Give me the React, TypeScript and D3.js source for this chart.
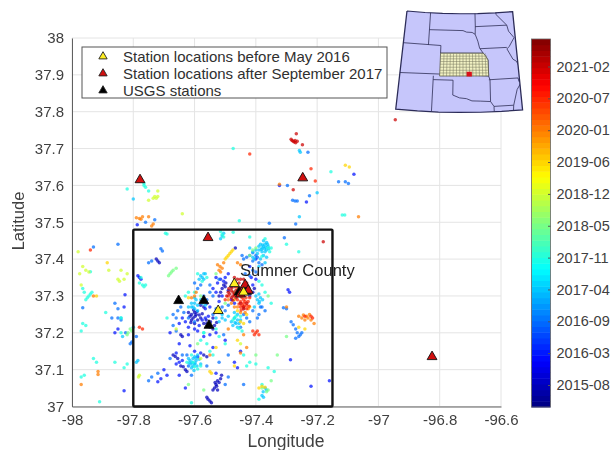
import React, { useEffect, useRef } from 'react';
import * as d3 from 'd3';

type LonLat = [number, number];

// colorbar ticks, decimal year -> label
const dateTicks = [2015.6, 2016.15, 2016.7, 2017.25, 2017.8, 2018.35, 2018.9, 2019.45, 2020.0, 2020.55, 2021.1];
const dateLabels = ['2015-08', '2016-03', '2016-09', '2017-04', '2017-11', '2018-05', '2018-12', '2019-06', '2020-01', '2020-07', '2021-02'];
const lonTicks = [-98, -97.8, -97.6, -97.4, -97.2, -97, -96.8, -96.6];
const latTicks = [37, 37.1, 37.2, 37.3, 37.4, 37.5, 37.6, 37.7, 37.8, 37.9, 38];

// events, one list per colour band
const events2015: LonLat[] = [
  [-97.61,37.25],[-97.6,37.255],[-97.615,37.245],[-97.605,37.24],[-97.595,37.25],[-97.62,37.255],[-97.59,37.235],[-97.61,37.235],
  [-97.55,37.215],[-97.54,37.21],[-97.56,37.225],[-97.535,37.22],[-97.57,37.14],[-97.56,37.135],[-97.64,37.19],[-97.645,37.195],
  [-97.53,37.06],[-97.525,37.07],[-97.535,37.05],[-97.54,37.045],[-97.52,37.065],[-97.528,37.055],[-97.515,37.075],
  [-97.556,37.02],[-97.55,37.015],[-97.56,37.025],[-97.545,37.01],[-97.467,37.43],[-97.5,37.325],[-97.505,37.33],[-97.49,37.315],
  [-97.51,37.32],[-97.72,37.395],[-97.725,37.4],[-97.715,37.39],[-97.663,37.136],[-97.67,37.14],[-97.655,37.13],[-97.637,37.108],
  [-97.63,37.1],[-97.645,37.11],[-97.625,37.095],[-97.58,37.275],[-97.57,37.27],[-97.56,37.28],[-97.44,37.265],[-97.42,37.3],
  [-97.598,37.245],[-97.592,37.258],[-97.585,37.248],[-97.58,37.24],[-97.575,37.252],[-97.603,37.262],[-97.612,37.228],[-97.6,37.225],
  [-97.57,37.225],[-97.562,37.235],[-97.548,37.23],[-97.54,37.24],[-97.528,37.228],[-97.52,37.3],[-97.515,37.31],[-97.498,37.335],
  [-97.48,37.325],[-97.41,37.31],[-97.405,37.32],[-97.525,37.045],[-97.533,37.065],[-97.512,37.085],
];
const events2016a: LonLat[] = [
  [-97.565,37.24],[-97.575,37.235],[-97.555,37.245],[-97.585,37.22],[-97.6,37.21],[-97.62,37.195],[-97.65,37.17],[-97.68,37.2],
  [-97.295,37.317],[-97.29,37.31],[-97.16,37.07],[-97.22,37.055],[-97.287,37.127],[-97.83,37.043],[-97.827,37.303],[-97.78,37.35],
  [-97.775,37.345],[-97.785,37.355],[-97.72,37.067],[-97.71,37.075],[-97.59,37.135],[-97.6,37.15],[-97.615,37.165],[-97.54,37.16],
  [-97.5,37.18],[-97.46,37.105],[-97.45,37.15],[-97.47,37.12],[-97.52,37.285],[-97.48,37.29],[-97.47,37.28],[-97.51,37.3],
  [-97.5,37.35],[-97.49,37.36],[-97.42,37.38],[-97.4,37.4],[-97.63,37.05],[-97.53,37.09],[-97.65,37.085],[-97.69,37.085],[-97.7,37.1],
  [-97.08,37.63],[-97.235,37.555],[-97.323,37.6],[-97.787,37.493],[-97.83,37.27],[-97.85,37.21],[-97.86,37.2],
  [-97.53,37.31],[-97.54,37.32],[-97.525,37.335],[-97.515,37.345],[-97.505,37.34],[-97.53,37.35],[-97.55,37.27],[-97.565,37.265],
  [-97.63,37.23],[-97.64,37.24],[-97.65,37.225],[-97.62,37.215],[-97.59,37.205],[-97.57,37.19],[-97.55,37.195],[-97.53,37.2],
  [-97.66,37.145],[-97.65,37.12],[-97.66,37.115],[-97.64,37.125],[-97.58,37.145],[-97.41,37.33],[-97.4,37.345],[-97.415,37.35],
];
const events2016b: LonLat[] = [
  [-97.93,37.433],[-97.85,37.44],[-97.71,37.428],[-97.705,37.422],[-97.75,37.39],[-97.74,37.395],[-97.278,37.222],[-97.27,37.21],
  [-97.285,37.23],[-97.265,37.2],[-97.31,37.268],[-97.3,37.265],[-97.255,37.195],[-97.25,37.2],[-97.26,37.19],[-97.27,37.185],
  [-97.13,37.61],[-97.108,37.61],[-97.098,37.605],[-97.297,37.6],[-97.28,37.56],[-97.272,37.558],[-97.265,37.558],[-97.225,37.572],
  [-97.23,37.69],[-97.27,37.495],[-97.356,37.497],[-97.307,37.458],[-97.76,37.5],[-97.73,37.507],[-97.965,37.268],[-97.86,37.28],
  [-97.85,37.265],[-97.87,37.24],[-97.85,37.24],[-97.84,37.235],[-97.825,37.2],[-97.805,37.175],[-97.81,37.17],[-97.79,37.19],
  [-97.66,37.24],[-97.67,37.25],[-97.655,37.26],[-97.68,37.13],[-97.72,37.09],[-97.74,37.08],[-97.75,37.07],[-97.6,37.23],
  [-97.44,37.25],[-97.43,37.24],[-97.45,37.215],[-97.41,37.26],[-97.38,37.27],[-97.39,37.25],[-97.53,37.265],[-97.54,37.3],
  [-97.55,37.33],[-97.52,37.345],[-97.41,37.417],[-97.4,37.41],[-97.43,37.405],[-97.42,37.41],[-97.39,37.39],[-97.38,37.385],
  [-97.505,37.195],[-97.49,37.14],[-97.52,37.12],[-97.56,37.11],[-97.49,37.08],[-97.5,37.06],[-97.44,37.06],
  [-97.52,37.255],[-97.51,37.27],[-97.5,37.26],[-97.49,37.275],[-97.54,37.25],[-97.56,37.29],[-97.57,37.3],[-97.55,37.31],
  [-97.59,37.32],[-97.6,37.335],[-97.58,37.33],[-97.62,37.24],[-97.635,37.255],[-97.645,37.27],[-97.66,37.205],[-97.67,37.22],
  [-97.435,37.36],[-97.42,37.355],[-97.41,37.37],[-97.4,37.365],[-97.44,37.4],[-97.445,37.41],[-97.41,37.395],[-97.395,37.405],
  [-97.385,37.27],[-97.37,37.26],[-97.395,37.24],[-97.42,37.23],[-97.64,37.14],[-97.62,37.11],[-97.61,37.085],[-97.625,37.14],
];
const events2017a: LonLat[] = [
  [-97.79,37.12],[-97.785,37.125],[-97.8,37.563],[-97.255,37.69],[-97.258,37.695],[-97.258,37.515],[-97.2,37.58],
  [-97.375,37.434],[-97.37,37.44],[-97.38,37.43],[-97.365,37.425],[-97.385,37.44],[-97.36,37.435],[-97.37,37.42],[-97.38,37.42],
  [-97.39,37.425],[-97.375,37.45],[-97.365,37.445],[-97.41,37.42],[-97.42,37.43],[-97.405,37.4],[-97.39,37.38],[-97.37,37.39],
  [-97.575,37.35],[-97.57,37.345],[-97.58,37.355],[-97.565,37.36],[-97.585,37.345],[-97.57,37.36],[-97.6,37.28],[-97.605,37.27],
  [-97.61,37.28],[-97.595,37.29],[-97.6,37.265],[-97.59,37.275],[-97.62,37.27],[-97.51,37.463],[-97.505,37.47],[-97.515,37.455],
  [-97.395,37.29],[-97.39,37.28],[-97.4,37.3],[-97.385,37.295],[-97.405,37.27],[-97.608,37.12],[-97.6,37.115],[-97.615,37.125],
  [-97.605,37.13],[-97.595,37.125],[-97.61,37.105],[-97.6,37.135],[-97.59,37.14],[-97.62,37.13],[-97.468,37.228],[-97.46,37.235],
  [-97.475,37.22],[-97.455,37.225],[-97.47,37.24],[-97.46,37.215],[-97.53,37.24],[-97.52,37.23],[-97.51,37.25],[-97.376,37.04],
  [-97.38,37.03],[-97.37,37.05],[-97.375,37.025],[-97.365,37.045],[-97.84,37.24],[-97.8,37.215],[-97.835,37.19],
  [-97.372,37.428],[-97.378,37.438],[-97.368,37.432],[-97.362,37.44],[-97.382,37.426],[-97.358,37.428],[-97.39,37.435],[-97.4,37.425],
  [-97.41,37.405],[-97.395,37.415],[-97.385,37.4],[-97.375,37.41],[-97.365,37.405],[-97.612,37.115],[-97.605,37.11],[-97.598,37.118],
  [-97.592,37.11],[-97.618,37.118],[-97.602,37.098],[-97.595,37.132],[-97.585,37.128],[-97.58,37.115],[-97.61,37.27],[-97.6,37.295],
  [-97.58,37.29],[-97.575,37.28],[-97.565,37.275],[-97.59,37.26],[-97.51,37.24],[-97.5,37.235],[-97.49,37.245],[-97.48,37.23],
  [-97.47,37.255],[-97.46,37.25],[-97.465,37.225],[-97.45,37.235],[-97.388,37.285],[-97.378,37.29],[-97.39,37.305],
];
const events2017b: LonLat[] = [
  [-97.82,37.59],[-97.765,37.605],[-97.76,37.595],[-97.765,37.6],[-97.75,37.585],[-97.474,37.70],[-97.155,37.637],[-97.118,37.52],
  [-97.11,37.52],[-97.454,37.504],[-97.695,37.47],[-97.69,37.468],[-97.51,37.467],[-97.505,37.46],[-97.515,37.475],[-97.474,37.473],
  [-97.42,37.46],[-97.94,37.366],[-97.95,37.295],[-97.945,37.3],[-97.94,37.305],[-97.935,37.31],[-97.955,37.29],[-97.965,37.32],
  [-97.96,37.31],[-97.965,37.225],[-97.955,37.22],[-97.97,37.205],[-97.89,37.255],[-97.84,37.24],[-97.84,37.2],[-97.93,37.13],
  [-97.92,37.12],[-97.86,37.12],[-97.83,37.105],[-97.82,37.115],[-97.97,37.08],[-97.96,37.085],[-97.91,37.013],[-97.775,37.35],
  [-97.77,37.33],[-97.765,37.325],[-97.76,37.33],[-97.78,37.335],[-97.69,37.24],[-97.62,37.31],[-97.63,37.3],[-97.6,37.31],
  [-97.58,37.18],[-97.57,37.2],[-97.56,37.17],[-97.44,37.14],[-97.42,37.12],[-97.4,37.115],[-97.36,37.105],[-97.34,37.095],
  [-97.47,37.24],[-97.45,37.245],[-97.43,37.11],[-97.61,37.01],[-97.5,37.17],[-97.38,37.06],[-97.39,37.02],[-97.58,37.11],
  [-97.54,37.14],[-97.55,37.15],[-97.39,37.34],[-97.38,37.33],[-97.37,37.31],[-97.35,37.28],[-97.26,37.42],[-97.3,37.44],
  [-97.605,37.12],[-97.6,37.108],[-97.59,37.102],[-97.61,37.14],[-97.625,37.12],[-97.475,37.235],[-97.465,37.245],[-97.455,37.212],
  [-97.445,37.205],[-97.36,37.43],[-97.355,37.42],[-97.35,37.43],[-97.37,37.455],[-97.38,37.408],[-97.575,37.34],[-97.56,37.35],
  [-97.59,37.36],[-97.57,37.2],[-97.53,37.21],[-97.52,37.19],
];
const events2018a: LonLat[] = [
  [-97.817,37.2],[-97.81,37.21],[-97.82,37.195],[-97.805,37.205],[-97.675,37.365],[-97.67,37.37],[-97.68,37.36],[-97.685,37.355],
  [-97.66,37.375],[-97.365,37.04],[-97.36,37.045],[-97.38,37.05],[-97.59,37.17],[-97.53,37.36],[-97.33,37.14],[-97.57,37.045],
  [-97.35,37.07],[-97.62,37.06],[-97.4,37.14],[-97.3,37.19],[-97.47,37.31],[-97.36,37.3],[-97.4,37.43],[-97.41,37.425],
  [-97.42,37.41],[-97.58,37.3],[-97.5,37.28],
];
const events2018b: LonLat[] = [
  [-97.73,37.57],[-97.725,37.565],[-97.735,37.565],[-97.72,37.57],[-97.75,37.56],[-97.72,37.585],[-97.64,37.523],[-97.98,37.42],
  [-97.965,37.38],[-97.955,37.37],[-97.945,37.365],[-97.975,37.36],[-97.97,37.33],[-97.85,37.345],[-97.845,37.34],[-97.83,37.345],
  [-97.82,37.36],[-97.84,37.37],[-97.783,37.08],[-97.78,37.085],[-97.88,37.37],[-97.66,37.21],[-97.58,37.13],[-97.45,37.17],
];
const events2019: LonLat[] = [
  [-97.108,37.655],[-97.095,37.65],[-97.5,37.4],[-97.49,37.41],[-97.48,37.42],[-97.495,37.405],[-97.485,37.415],[-97.475,37.425],
  [-97.55,37.095],[-97.545,37.09],[-97.39,37.05],[-97.38,37.055],[-97.37,37.052],[-97.885,37.39],[-97.92,37.3],[-97.46,37.26],
  [-97.45,37.23],[-97.44,37.225],[-97.53,37.16],[-97.46,37.18],[-97.47,37.11],[-97.26,37.215],[-97.24,37.21],[-97.62,37.295],
  [-97.43,37.25],[-97.42,37.27],[-97.47,37.29],
];
const events2020a: LonLat[] = [
  [-97.79,37.512],[-97.78,37.51],[-97.77,37.515],[-97.775,37.508],[-97.75,37.515],[-97.74,37.49],[-97.735,37.495],[-97.065,37.515],
  [-97.323,37.603],[-97.915,37.087],[-97.915,37.095],[-97.93,37.3],[-97.517,37.38],[-97.51,37.375],[-97.525,37.385],[-97.505,37.39],
  [-97.52,37.37],[-97.46,37.39],[-97.45,37.385],[-97.595,37.31],[-97.6,37.3],[-97.61,37.295],[-97.25,37.24],[-97.26,37.245],
  [-97.24,37.235],[-97.235,37.245],[-97.23,37.24],[-97.22,37.235],[-97.245,37.248],[-97.21,37.225],[-97.225,37.25],[-97.46,37.32],
  [-97.47,37.27],[-97.44,37.195],[-97.43,37.16],[-97.45,37.145],[-97.3,37.27],[-97.97,37.06],[-97.55,37.14],[-97.49,37.21],
  [-97.515,37.365],[-97.45,37.255],[-97.435,37.255],[-97.46,37.27],[-97.425,37.265],[-97.48,37.28],[-97.49,37.29],
];
const events2020b: LonLat[] = [
  [-97.94,37.425],[-97.42,37.685],[-97.22,37.645],[-97.206,37.612],[-97.78,37.215],[-97.77,37.21],[-97.44,37.28],[-97.435,37.285],
  [-97.445,37.275],[-97.43,37.275],[-97.44,37.29],[-97.45,37.285],[-97.425,37.285],[-97.44,37.265],[-97.43,37.265],[-97.45,37.27],
  [-97.46,37.29],[-97.47,37.3],[-97.5,37.29],[-97.49,37.3],[-97.4,37.2],[-97.395,37.205],[-97.405,37.195],[-97.39,37.195],
  [-97.41,37.205],[-97.24,37.245],[-97.215,37.24],[-97.22,37.245],[-97.438,37.272],[-97.448,37.262],[-97.422,37.272],[-97.455,37.278],
  [-97.445,37.295],[-97.432,37.295],[-97.42,37.295],
];
const events2021: LonLat[] = [
  [-96.945,37.778],[-97.268,37.74],[-97.278,37.72],[-97.282,37.722],[-97.275,37.718],[-97.27,37.716],[-97.285,37.725],[-97.272,37.722],
  [-97.265,37.72],[-97.248,37.71],[-97.278,37.588],[-97.18,37.447],[-97.474,37.31],[-97.48,37.315],[-97.47,37.305],[-97.465,37.315],
  [-97.485,37.305],[-97.475,37.3],[-97.46,37.31],[-97.48,37.295],[-97.465,37.295],[-97.45,37.3],[-97.445,37.31],[-97.45,37.32],
  [-97.44,37.33],[-97.455,37.335],[-97.47,37.35],[-97.46,37.345],[-97.45,37.28],[-97.44,37.27],[-97.43,37.28],
  [-97.49,37.31],[-97.495,37.3],[-97.488,37.32],[-97.478,37.322],[-97.468,37.325],[-97.458,37.325],[-97.435,37.32],[-97.43,37.335],
  [-97.45,37.345],[-97.44,37.345],[-97.475,37.288],[-97.46,37.3],
];
const eventBands: [number, LonLat[]][] = [
  [2015.6, events2015], [2016.15, events2016a], [2016.7, events2016b], [2017.25, events2017a], [2017.8, events2017b],
  [2018.35, events2018a], [2018.9, events2018b], [2019.45, events2019], [2020.0, events2020a], [2020.55, events2020b], [2021.1, events2021],
];

const stationsBefore: LonLat[] = [[-97.47, 37.333], [-97.523, 37.26], [-97.44, 37.31]];
const stationsAfter: LonLat[] = [[-97.778, 37.615], [-97.247, 37.62], [-97.556, 37.458], [-96.825, 37.135], [-97.45, 37.305], [-97.435, 37.33], [-97.425, 37.315]];
const stationsUsgs: LonLat[] = [[-97.652, 37.287], [-97.57, 37.287], [-97.553, 37.22], [-97.455, 37.31], [-97.43, 37.312]];

const legendLabels = ['Station locations before May 2016', 'Station locations after September 2017', 'USGS stations'];
const legendColors = ['#ffee22', '#d01010', '#000000'];

// inset map, real state lines (lon, lat)
const frameTopLat = 45.2;
const frameBottomLat = 32.3;
const frameWest = -108.1;
const frameEast = -90;
const frameLons = [-108.1, -105, -102, -99, -96, -93, -90];
const insetStates: LonLat[][] = [
  [[-109.6, 41], [-102.05, 41], [-102.05, 40], [-95.3, 40]],
  [[-104.05, 45.8], [-104.05, 41]],
  [[-104.05, 43], [-98.5, 43], [-97.9, 42.8], [-97, 42.75], [-96.5, 42.5], [-96.1, 41.6], [-95.85, 40.7], [-95.3, 40], [-94.6, 39.1], [-94.6, 37]],
  [[-110, 37], [-94.6, 37]],
  [[-103, 37], [-103, 32.3]],
  [[-103, 36.5], [-100, 36.5], [-100, 34.56], [-99, 34.2], [-98, 34.1], [-97.2, 33.8], [-96, 33.75], [-94.5, 33.65]],
  [[-94.62, 37], [-94.43, 36.5], [-94.5, 33.65], [-94.04, 33], [-94.04, 32.3]],
  [[-94.6, 36.5], [-90.2, 36.5], [-90.1, 36]],
  [[-94.04, 33], [-91.2, 33]],
  [[-96.5, 43.5], [-91.2, 43.5]],
  [[-96.45, 45.8], [-96.45, 43.5], [-96.5, 42.5]],
  [[-95.8, 40.6], [-91.5, 40.6]],
  [[-92.7, 45.8], [-92.9, 45], [-91.2, 43.5], [-91, 42.7], [-90.2, 41.8], [-91.1, 40.7], [-91.5, 40.4], [-90.7, 39], [-90.2, 38.7], [-89.5, 37.3], [-89.2, 37], [-89.7, 36], [-90.5, 35], [-91.2, 33], [-91.3, 32.3]],
];
const kansasOutline: LonLat[] = [[-102.05, 40], [-95.3, 40], [-94.9, 39.6], [-94.6, 39.1], [-94.6, 37], [-102.05, 37], [-102.05, 40]];
const countyLons = [-101.5, -101, -100.5, -100, -99.5, -99, -98.5, -98, -97.5, -97, -96.5, -96, -95.5, -95];
const countyLats = [37.4, 37.75, 38.15, 38.55, 38.9, 39.25, 39.6];
const insetMarker: LonLat[] = [[-97.95, 37], [-97.15, 37], [-97.15, 37.6], [-97.95, 37.6], [-97.95, 37]];

const jetStops = ['#00007f', '#0000ff', '#007fff', '#00ffff', '#7fff7f', '#ffff00', '#ff7f00', '#ff0000', '#7f0000'];
const fontStack = '"Liberation Sans", Arial, sans-serif';

function App() {
  const ref = useRef<SVGSVGElement>(null);

  useEffect(() => {
    drawChart();
  }, []);

  function drawChart() {
    const svg = d3.select(ref.current);
    svg.selectAll('*').remove();

    const x = d3.scaleLinear().domain([-98, -96.6]).range([72, 501]);
    const y = d3.scaleLinear().domain([37, 38]).range([406.5, 38]);
    const barY = d3.scaleLinear().domain([2015.6, 2021.1]).range([385, 66.5]);
    const frac = d3.scaleLinear().domain(jetStops.map((_, i) => i / 8)).range(jetStops as any).interpolate(d3.interpolateRgb as any);
    const barBottom = 407;
    const barTop = 39;
    const color = (t: number) => frac((barBottom - barY(t)) / (barBottom - barTop)) as unknown as string;

    // soft dots, the source is a resampled raster
    const defs = svg.append('defs');
    defs.append('filter').attr('id', 'soft').append('feGaussianBlur').attr('stdDeviation', 0.55);

    // grid
    const grid = svg.append('g').attr('stroke', '#e4e4e4').attr('stroke-width', 1);
    grid.selectAll('.gx').data(lonTicks).enter().append('line')
      .attr('x1', d => x(d)).attr('x2', d => x(d)).attr('y1', y(37)).attr('y2', y(38));
    grid.selectAll('.gy').data(latTicks).enter().append('line')
      .attr('x1', x(-98)).attr('x2', x(-96.6)).attr('y1', d => y(d)).attr('y2', d => y(d));

    // events
    const dots = svg.append('g').attr('filter', 'url(#soft)');
    eventBands.forEach(([t, pts]) => {
      dots.append('g').selectAll('circle').data(pts).enter().append('circle')
        .attr('cx', d => x(d[0])).attr('cy', d => y(d[1])).attr('r', 1.75)
        .attr('fill', color(t)).attr('opacity', 0.72);
    });

    // axes
    const xAxis = svg.append('g').attr('transform', `translate(0,${y(37)})`)
      .call(d3.axisBottom(x).tickValues(lonTicks).tickSize(0).tickPadding(8).tickFormat(d => String(d)));
    const yAxis = svg.append('g').attr('transform', `translate(${x(-98)},0)`)
      .call(d3.axisLeft(y).tickValues(latTicks).tickSize(0).tickPadding(8).tickFormat(d => String(d)));
    [xAxis, yAxis].forEach(a => {
      a.selectAll('text').attr('font-family', fontStack).attr('font-size', 15).attr('fill', '#404040');
      a.select('.domain').attr('stroke', '#606060').attr('stroke-width', 1);
    });

    svg.append('text').attr('x', 286).attr('y', 447).attr('text-anchor', 'middle')
      .attr('font-family', fontStack).attr('font-size', 17.5).attr('fill', '#404040').text('Longitude');
    svg.append('text').attr('transform', 'translate(24,221) rotate(-90)').attr('text-anchor', 'middle')
      .attr('font-family', fontStack).attr('font-size', 16.5).attr('fill', '#404040').text('Latitude');

    // Sumner County box
    svg.append('rect')
      .attr('x', x(-97.8)).attr('y', y(37.48)).attr('width', x(-97.15) - x(-97.8)).attr('height', y(37) - y(37.48))
      .attr('fill', 'none').attr('stroke', '#111').attr('stroke-width', 2.4).attr('rx', 1);
    svg.append('text').attr('x', 240).attr('y', 276).attr('font-family', fontStack).attr('font-size', 16.5)
      .attr('fill', '#222').text('Sumner County');

    // stations
    const tri = d3.symbol().type(d3.symbolTriangle);
    const drawStations = (pts: LonLat[], fill: string) => {
      svg.append('g').selectAll('path').data(pts).enter().append('path')
        .attr('d', tri.size(42)())
        .attr('transform', d => `translate(${x(d[0])},${y(d[1])})`)
        .attr('fill', fill).attr('stroke', '#111').attr('stroke-width', 0.9);
    };
    drawStations(stationsUsgs, '#000');
    drawStations(stationsBefore.slice(0, 2), '#ffee22');
    drawStations(stationsAfter, '#d01010');
    drawStations(stationsBefore.slice(2), '#ffee22');

    // legend
    const legend = svg.append('g');
    legend.append('rect').attr('x', 82).attr('y', 47).attr('width', 305).attr('height', 51)
      .attr('fill', '#fff').attr('stroke', '#555').attr('stroke-width', 1);
    const rowY = d3.scalePoint<string>().domain(legendLabels).range([56.5, 90.5]);
    legendLabels.forEach((label, i) => {
      legend.append('path').attr('d', tri.size(30)())
        .attr('transform', `translate(103,${rowY(label)})`)
        .attr('fill', legendColors[i]).attr('stroke', '#222').attr('stroke-width', 0.9);
      legend.append('text').attr('x', 123).attr('y', (rowY(label) as number) + 5)
        .attr('font-family', fontStack).attr('font-size', 15).attr('fill', '#303030').text(label);
    });

    // inset map, conic projection stretched a little in x like the source
    const projection = d3.geoConicConformal().parallels([33, 45]).rotate([98.5, 0]).center([0, 38.5]).scale(440).translate([463, 65]);
    const geo = d3.geoPath(projection);
    const line = (coordinates: LonLat[]) => geo({ type: 'LineString', coordinates } as any) as string;
    const frameRing: LonLat[] = [
      ...frameLons.map(lon => [lon, frameTopLat] as LonLat),
      [frameEast, frameBottomLat],
      ...frameLons.slice(0, -1).reverse().map(lon => [lon, frameBottomLat] as LonLat),
      [frameWest, frameTopLat],
    ];
    defs.append('clipPath').attr('id', 'insetClip').append('path').attr('d', line(frameRing));
    const inset = svg.append('g').attr('transform', 'translate(463,0) scale(1.08,1) translate(-463,0)');
    inset.append('path').attr('d', line(frameRing)).attr('fill', '#c6c6fb');
    const inner = inset.append('g').attr('clip-path', 'url(#insetClip)');
    inner.append('g').selectAll('path').data(insetStates).enter().append('path')
      .attr('d', d => line(d)).attr('fill', 'none').attr('stroke', '#34345c').attr('stroke-width', 0.8);
    inner.append('path').attr('d', line(kansasOutline)).attr('fill', '#f2f2c4').attr('stroke', '#50503c').attr('stroke-width', 0.7);
    inner.append('g').selectAll('path').data(countyLons).enter().append('path')
      .attr('d', d => line([[d, 37], [d, 40]])).attr('fill', 'none').attr('stroke', '#77775f').attr('stroke-width', 0.5);
    inner.append('g').selectAll('path').data(countyLats).enter().append('path')
      .attr('d', d => line([[-102.05, d], [-94.7, d]])).attr('fill', 'none').attr('stroke', '#77775f').attr('stroke-width', 0.5);
    inner.append('path').attr('d', line(insetMarker)).attr('fill', '#d80f1a');
    inset.append('path').attr('d', line(frameRing)).attr('fill', 'none').attr('stroke', '#2c2c58').attr('stroke-width', 1.2);

    // colorbar
    const bar = svg.append('g');
    const levels = d3.range(0, 64);
    const levelY = d3.scaleLinear().domain([0, 64]).range([barBottom, barTop]);
    bar.selectAll('rect').data(levels).enter().append('rect')
      .attr('x', 531.5).attr('width', 19).attr('y', d => levelY(d + 1)).attr('height', d => levelY(d) - levelY(d + 1) + 0.5)
      .attr('fill', d => frac((d + 0.5) / 64) as unknown as string);
    bar.append('rect').attr('x', 531.5).attr('y', barTop).attr('width', 19).attr('height', barBottom - barTop)
      .attr('fill', 'none').attr('stroke', '#666').attr('stroke-width', 0.8);
    const barAxis = bar.append('g').attr('transform', 'translate(550.5,0)')
      .call(d3.axisRight(barY).tickValues(dateTicks).tickSize(-2.5).tickPadding(6).tickFormat((_, i) => dateLabels[i]));
    barAxis.select('.domain').remove();
    barAxis.selectAll('line').attr('stroke', '#555');
    barAxis.selectAll('text').attr('font-family', fontStack).attr('font-size', 14.5).attr('fill', '#404040');
  }

  return (
    <svg ref={ref} width={612} height={450}
      style={{ position: 'absolute', left: 0, top: 0, background: '#fff', filter: 'blur(0.3px)' }} />
  );
}

export default App;
